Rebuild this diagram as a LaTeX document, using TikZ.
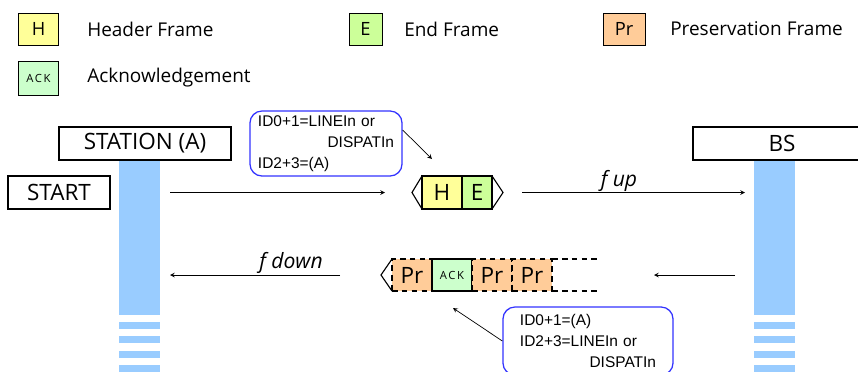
\documentclass[tikz,border=0pt]{standalone}
\usepackage{fontspec}
\setmainfont{Open Sans}
\newfontfamily\notefont{Liberation Sans}
\usetikzlibrary{positioning}

\definecolor{hdryellow}{HTML}{FFFF99}
\definecolor{endgreen}{HTML}{CCFF99}
\definecolor{presorange}{HTML}{FFCC99}
\definecolor{ackgreen}{HTML}{CCFFCC}
\definecolor{lifeblue}{HTML}{99CCFF}
\definecolor{noteblue}{HTML}{3333FF}

\tikzset{
  legbox/.style={draw, line width=0.7pt, minimum width=1cm, minimum height=0.8cm, inner sep=0, font=\fontsize{13}{15}\selectfont},
  legtext/.style={anchor=west, inner sep=0, font=\fontsize{13.5}{15}\selectfont},
  station/.style={draw, line width=0.8pt, minimum height=0.825cm, inner sep=0, font=\fontsize{16}{18}\selectfont},
  cell/.style={draw, line width=0.8pt, outer sep=0, minimum width=1cm, minimum height=0.825cm, inner sep=0, font=\fontsize{16}{18}\selectfont},
  ackfont/.style={font=\fontsize{8}{9}\selectfont\addfontfeatures{LetterSpace=15}},
  gap/.style={dash pattern=on 4pt off 3pt},
  note/.style={draw=noteblue, line width=0.9pt, rounded corners=0.3cm, inner sep=0, align=left, font=\notefont\fontsize{11}{14.9}\selectfont},
  msg/.style={->, >=stealth, line width=0.5pt},
  freq/.style={inner sep=0, font=\itshape\fontsize{15}{18}\selectfont}
}

\begin{document}
\begin{tikzpicture}[x=0.025cm, y=-0.025cm]
  \useasboundingbox (0,0) rectangle (858,371);

  % Legend
  \node[legbox, fill=hdryellow] (legH) at (38.5,29) {H};
  \node[legtext] (legHtxt) at (87,29) {Header Frame};
  \node[legbox, fill=endgreen, minimum width=0.825cm] (legE) at (365.5,29) {E};
  \node[legtext] (legEtxt) at (404,29) {End Frame};
  \node[legbox, fill=presorange, minimum width=1.05cm] (legPr) at (624,29) {Pr};
  \node[legtext] (legPrtxt) at (670,29) {Preservation Frame};
  \node[legbox, fill=ackgreen, ackfont, minimum height=0.85cm] (legAck) at (38.5,78) {ACK};
  \node[legtext] (legAcktxt) at (87,78) {Acknowledgement};

  % Lifelines
  \fill[lifeblue] (119,160) rectangle (160,315);
  \fill[lifeblue] (119,322) rectangle (160,329);
  \fill[lifeblue] (119,336) rectangle (160,343);
  \fill[lifeblue] (119,351) rectangle (160,358);
  \fill[lifeblue] (119,365) rectangle (160,372);

  \fill[lifeblue] (754,160) rectangle (795,315);
  \fill[lifeblue] (754,322) rectangle (795,329);
  \fill[lifeblue] (754,336) rectangle (795,343);
  \fill[lifeblue] (754,351) rectangle (795,358);
  \fill[lifeblue] (754,365) rectangle (795,372);

  % Stations
  \node[station, minimum width=4.3cm] (staA) at (145,143.5) {STATION (A)};
  \node[station, minimum width=4.45cm] (bs) at (782,143.5) {BS};
  \node[station, minimum width=2.55cm] (start) at (59,192.5) {START};

  % Uplink packet
  \node[cell, fill=hdryellow] (upH) at (442,192.5) {H};
  \node[cell, fill=endgreen, minimum width=0.75cm, right=0pt of upH] (upE) {E};
  \draw[line width=0.8pt] (upH.north west) -- ([xshift=-0.25cm]upH.west) -- (upH.south west);
  \draw[line width=0.8pt] (upE.north east) -- ([xshift=0.275cm]upE.east) -- (upE.south east);

  % Downlink packet
  \node[cell, fill=presorange, gap, minimum height=0.8cm] (dnPr1) at (412,275) {Pr};
  \node[cell, fill=ackgreen, ackfont, minimum height=0.8cm, right=0pt of dnPr1] (dnAck) {ACK};
  \node[cell, fill=presorange, gap, minimum height=0.8cm, right=0pt of dnAck] (dnPr2) {Pr};
  \node[cell, fill=presorange, gap, minimum height=0.8cm, right=0pt of dnPr2] (dnPr3) {Pr};
  \draw[line width=0.8pt, gap] (dnPr3.north east) -- ++(49,0);
  \draw[line width=0.8pt, gap] (dnPr3.south east) -- ++(49,0);
  \draw[line width=0.8pt] (dnPr1.north west) -- ([xshift=-0.275cm]dnPr1.west) -- (dnPr1.south west);

  % Notes
  \node[note, minimum width=3.8cm, minimum height=1.625cm, text width=3.4cm] (noteUp) at (326,143.5)
    {ID0+1=LINEIn or\\\makebox[3.4cm][r]{DISPATIn}\\ID2+3=(A)};
  \node[note, minimum width=4.25cm, minimum height=1.7cm, text width=3.4cm] (noteDn) at (588,341)
    {ID0+1=(A)\\ID2+3=LINEIn or\\\makebox[3.4cm][r]{DISPATIn}};

  % Messages
  \coordinate (upS) at (170,192.5);
  \coordinate (upT) at (385,192.5);
  \coordinate (fupS) at (522,192.5);
  \coordinate (fupT) at (745,192.5);
  \coordinate (bsS) at (735,275);
  \coordinate (bsT) at (654,275);
  \coordinate (fdnS) at (340,275);
  \coordinate (fdnT) at (170,275);
  \coordinate (upTip) at (432,159);
  \coordinate (dnTip) at (453,308);

  \draw[msg] (upS) -- (upT);
  \draw[msg] (fupS) -- (fupT);
  \draw[msg] (bsS) -- (bsT);
  \draw[msg] (fdnS) -- (fdnT);
  \draw[msg] (noteUp.10) -- (upTip);
  \draw[msg] (noteDn.west) -- (dnTip);

  \node[freq] (fup) at (619,181) {f up};
  \node[freq] (fdown) at (291,263) {f down};
\end{tikzpicture}
\end{document}
